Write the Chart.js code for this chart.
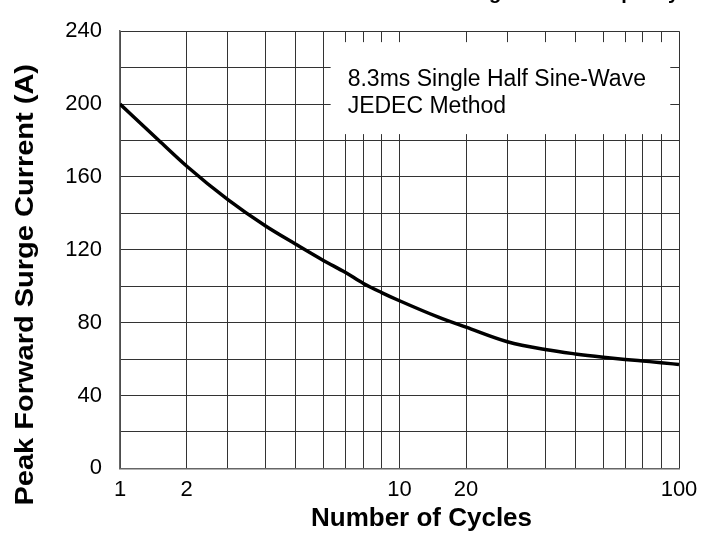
<!DOCTYPE html>
<html>
<head>
<meta charset="utf-8">
<script src="https://cdn.jsdelivr.net/npm/chart.js@4.4.1/dist/chart.umd.min.js"></script>
<style>
  html, body { margin: 0; padding: 0; background: #fff; }
</style>
</head>
<body>
<canvas id="surge" width="715" height="536"></canvas>
<script>
// curve at the printed grid lines (plus 1.5 and 15)
const cycles = [1, 1.5, 2, 3, 4, 5, 6, 7, 8, 9, 10, 15, 20, 30, 40, 50, 60, 70, 80, 90, 100];
const surgeCurrent = [200, 180, 166, 147.5, 133, 123, 114, 107.5, 101.5, 96.5, 92, 83, 77.5, 69.5, 65.2, 62.8, 61, 59.8, 58.9, 58, 57];

const gridCycles = [1, 2, 3, 4, 5, 6, 7, 8, 9, 10, 20, 30, 40, 50, 60, 70, 80, 90, 100];
const xTickLabels = [1, 2, 10, 20, 100];
const yTickLabels = [0, 40, 80, 120, 160, 200, 240];
const noteLines = ['8.3ms Single Half Sine-Wave', 'JEDEC Method'];
const chartTitle = 'Maximum Forward Surge Current Capacity';
const xTitle = 'Number of Cycles';
const yTitle = 'Peak Forward Surge Current (A)';

// the printed log paper is not a true log grid, this is where 1..10 sit inside a decade
const DECADE_STEPS = [0, 0.238, 0.386, 0.521, 0.629, 0.729, 0.807, 0.871, 0.936, 1];

const LogScale = Chart.LogarithmicScale;

class DatasheetLogScale extends LogScale {
	static id = 'datasheetLog';
	static defaults = LogScale.defaults;

	_decadePos(v) {
		const d = Math.floor(Math.log10(v) + 1e-9);
		const m = v / Math.pow(10, d);
		const i = Math.min(Math.floor(m + 1e-9), 9);
		const t = Math.log10(m / i) / Math.log10((i + 1) / i);
		return d + DECADE_STEPS[i - 1] + (DECADE_STEPS[i] - DECADE_STEPS[i - 1]) * t;
	}

	getPixelForValue(value) {
		if (value === undefined || value <= 0) value = this.min;
		const a = this._decadePos(this.min);
		const b = this._decadePos(this.max);
		return this.getPixelForDecimal((this._decadePos(value) - a) / (b - a));
	}

	getValueForPixel(pixel) {
		const dec = this.getDecimalForPixel(pixel);
		return Math.pow(10, Math.log10(this.min) + dec * (Math.log10(this.max) - Math.log10(this.min)));
	}
}
Chart.register(DatasheetLogScale);

const FONT = '"Liberation Sans", Arial, sans-serif';
Chart.defaults.font.family = FONT;
Chart.defaults.color = '#000';

// white box with the test condition, covers the grid behind it
const notePlugin = {
	id: 'note',
	beforeDatasetsDraw(chart) {
		const { ctx, scales: { x, y } } = chart;
		const l = x.getPixelForValue(6.3);
		const r = x.getPixelForValue(95);
		const t = y.getPixelForValue(234);
		const b = y.getPixelForValue(183.5);
		ctx.save();
		ctx.fillStyle = '#fff';
		ctx.fillRect(l, t, r - l, b - t);
		ctx.fillStyle = '#000';
		ctx.font = '23px ' + FONT;
		ctx.textBaseline = 'alphabetic';
		noteLines.forEach((s, i) => ctx.fillText(s, l + 17, t + 44 + i * 27));
		ctx.restore();
	}
};

// axis titles sit a bit off centre in the original, and the y one is stretched
const axisTitlePlugin = {
	id: 'axisTitles',
	afterDraw(chart) {
		const { ctx, chartArea: a } = chart;
		ctx.save();
		ctx.fillStyle = '#000';
		ctx.textAlign = 'center';
		ctx.textBaseline = 'alphabetic';
		ctx.font = 'bold 26px ' + FONT;
		ctx.fillText(xTitle, (a.left + a.right) / 2 + 22, 526);
		ctx.translate(33, (a.top + a.bottom) / 2 + 35);
		ctx.rotate(-Math.PI / 2);
		ctx.scale(1.16, 1);
		ctx.font = 'bold 25px ' + FONT;
		ctx.fillText(yTitle, 0, 0);
		ctx.restore();
	}
};

new Chart(document.getElementById('surge'), {
	type: 'line',
	data: {
		datasets: [{
			data: cycles.map((c, i) => ({ x: c, y: surgeCurrent[i] })),
			borderColor: '#000',
			borderWidth: 3.5,
			pointRadius: 0,
			cubicInterpolationMode: 'monotone'
		}]
	},
	options: {
		responsive: false,
		animation: false,
		layout: { padding: { top: 0, right: 36, bottom: 0, left: 0 } },
		plugins: {
			legend: { display: false },
			tooltip: { enabled: false },
			title: {
				display: true,
				text: chartTitle,
				align: 'end',
				font: { size: 20, weight: 'bold' },
				padding: { top: -27, bottom: 26 }
			}
		},
		scales: {
			x: {
				type: 'datasheetLog',
				min: 1,
				max: 100,
				afterBuildTicks: s => { s.ticks = gridCycles.map(v => ({ value: v })); },
				afterFit: s => { s.height = 67.7; },
				grid: { color: '#333', lineWidth: 1, drawTicks: false },
				border: { color: '#666', width: 1.5 },
				ticks: {
					autoSkip: false,
					maxRotation: 0,
					padding: 8.5,
					font: { size: 22 },
					callback: v => xTickLabels.includes(v) ? String(v) : ''
				}
			},
			y: {
				type: 'linear',
				min: 0,
				max: 240,
				afterFit: s => { s.width = 120; },
				grid: { color: '#333', lineWidth: 1, drawTicks: false },
				border: { color: '#666', width: 1.5 },
				ticks: {
					stepSize: 20,
					padding: 18,
					font: { size: 22 },
					callback: v => yTickLabels.includes(v) ? String(v) : ''
				}
			}
		}
	},
	plugins: [notePlugin, axisTitlePlugin]
});
</script>
</body>
</html>
